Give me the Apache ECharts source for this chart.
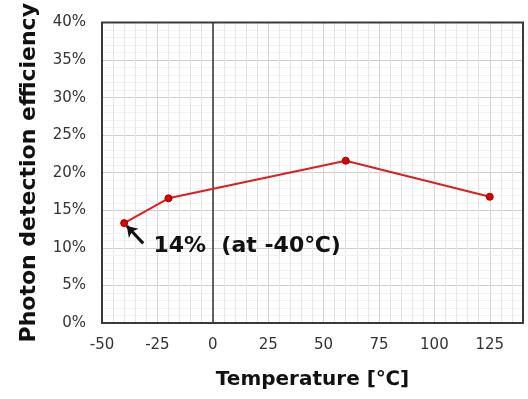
<!DOCTYPE html>
<html>
<head>
<meta charset="utf-8">
<script src="https://cdn.jsdelivr.net/npm/echarts@6/dist/echarts.min.js"></script>
<style>
  html, body { margin: 0; padding: 0; background: #fff; }
  #chart { width: 528px; height: 399px; }
</style>
</head>
<body>
<div id="chart"></div>
<script>
// temperature [°C] vs photon detection efficiency [%]
const temperatures = [-40, -20, 60, 125]
const efficiency = [13.3, 16.6, 21.6, 16.8]

const xMajorTicks = [-50, -25, 0, 25, 50, 75, 100, 125]
const yMajorTicks = [0, 5, 10, 15, 20, 25, 30, 35, 40]

const noteText = '14%  (at -40℃)'
const notePos = [15.5, 10.2]
const arrowFrom = [-31.4, 10.6]
const arrowTo = [-38.8, 12.9]

const font = 'DejaVu Sans'

const chart = echarts.init(document.getElementById('chart'))

chart.setOption({
  backgroundColor: '#fff',
  animation: false,
  grid: {
    left: 102,
    right: 5,
    top: 20,
    bottom: 76,
    show: true,
    borderColor: '#3a3a3a',
    borderWidth: 2,
    z: 3,
  },
  xAxis: {
    type: 'value',
    min: -50,
    max: 140,
    interval: 5,
    name: 'Temperature [℃]',
    nameLocation: 'middle',
    nameGap: 47,
    nameTextStyle: { fontFamily: font, fontWeight: 'bold', fontSize: 20, color: '#111' },
    axisLine: { show: false },
    axisTick: { show: false },
    axisLabel: {
      margin: 15,
      fontFamily: font,
      fontSize: 15,
      color: '#333',
      showMaxLabel: false,
      formatter: (v) => (xMajorTicks.includes(v) ? String(v) : ''),
    },
    splitLine: {
      show: true,
      lineStyle: { color: ['#d6d6d6', '#e6e6e6', '#e6e6e6', '#e6e6e6', '#e6e6e6'], width: 1 },
    },
  },
  yAxis: {
    type: 'value',
    min: 0,
    max: 40,
    interval: 1,
    name: 'Photon detection efficiency',
    nameLocation: 'middle',
    nameGap: 62,
    nameTextStyle: { fontFamily: font, fontWeight: 'bold', fontSize: 22, color: '#111' },
    axisLine: { show: false },
    axisTick: { show: false },
    axisLabel: {
      margin: 16,
      fontFamily: font,
      fontSize: 15,
      color: '#333',
      formatter: (v) => (yMajorTicks.includes(v) ? v + '%' : ''),
    },
    splitLine: {
      show: true,
      lineStyle: { color: ['#cfcfcf', '#f2f2f2', '#f2f2f2', '#f2f2f2', '#f2f2f2'], width: 1 },
    },
  },
  series: [
    {
      type: 'line',
      data: temperatures.map((t, i) => [t, efficiency[i]]),
      symbol: 'circle',
      symbolSize: 7,
      z: 5,
      lineStyle: { color: '#dc1f1f', width: 2 },
      itemStyle: { color: '#e00000', borderColor: '#9b0000', borderWidth: 1 },
      markLine: {
        silent: true,
        animation: false,
        label: { show: false },
        data: [
          [
            { xAxis: 0, yAxis: 0, symbol: 'none', lineStyle: { color: '#333', width: 1.5, type: 'solid' } },
            { xAxis: 0, yAxis: 40, symbol: 'none' },
          ],
          [
            { coord: arrowFrom, symbol: 'none', lineStyle: { color: '#111', width: 3, type: 'solid' } },
            { coord: arrowTo, symbol: 'arrow', symbolSize: [10, 10] },
          ],
        ],
      },
      markPoint: {
        silent: true,
        symbol: 'circle',
        symbolSize: 0,
        data: [{ coord: notePos, value: noteText }],
        label: {
          show: true,
          position: 'inside',
          formatter: noteText,
          fontFamily: font,
          fontWeight: 'bold',
          fontSize: 22,
          color: '#111',
        },
      },
    },
  ],
})

window.addEventListener('resize', () => chart.resize())
</script>
</body>
</html>
